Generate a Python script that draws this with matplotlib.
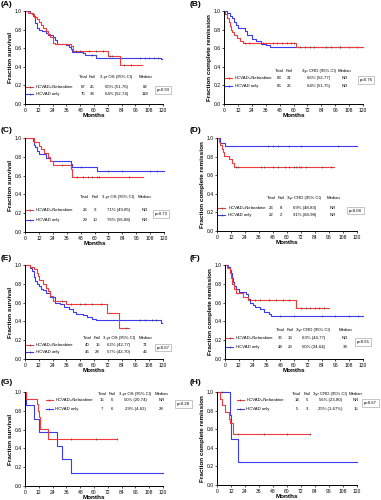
import numpy as np
import matplotlib
matplotlib.use("Agg")
import matplotlib.pyplot as plt

plt.rcParams['font.family'] = ['Liberation Sans', 'DejaVu Sans']

RED = '#f23a3a'
BLUE = '#3b3bf2'

# ---- curve data: event times / survival after each step; censor times ----
a_nel_t = [0, 3, 6, 8, 10, 12, 14, 16, 18, 20, 22, 24, 26, 40, 42, 72, 83, 102]
a_nel_s = [1.0, 0.98, 0.97, 0.94, 0.91, 0.88, 0.85, 0.82, 0.78, 0.75, 0.72, 0.66, 0.65, 0.62, 0.57, 0.52, 0.42, 0.42]
a_nel_c = [44, 48, 56, 62, 68, 74, 76, 86, 92]
a_hcv_t = [0, 4, 7, 9, 10, 12, 15, 18, 20, 24, 26, 28, 36, 38, 40, 41, 50, 52, 62, 118, 119]
a_hcv_s = [1.0, 0.98, 0.95, 0.87, 0.82, 0.80, 0.78, 0.76, 0.74, 0.72, 0.69, 0.65, 0.63, 0.61, 0.59, 0.56, 0.55, 0.53, 0.50, 0.48, 0.48]
a_hcv_c = [58, 100, 104, 108, 112, 116]

b_nel_t = [0, 1, 3, 4, 5, 6, 7, 9, 11, 14, 16, 62, 120]
b_nel_s = [1.0, 0.97, 0.93, 0.88, 0.84, 0.80, 0.77, 0.74, 0.71, 0.68, 0.66, 0.61, 0.61]
b_nel_c = [18, 22, 34, 42, 46, 50, 54, 58, 60, 66, 70, 74, 78, 88, 92, 100]
b_hcv_t = [0, 3, 5, 7, 9, 10, 12, 18, 20, 24, 28, 32, 36, 40, 119]
b_hcv_s = [1.0, 0.98, 0.95, 0.92, 0.88, 0.85, 0.82, 0.78, 0.74, 0.70, 0.68, 0.65, 0.63, 0.61, 0.61]
b_hcv_c = [100, 108, 115]

c_nel_t = [0, 8, 12, 14, 16, 20, 22, 24, 40, 41, 102]
c_nel_s = [1.0, 0.96, 0.92, 0.88, 0.84, 0.80, 0.76, 0.71, 0.67, 0.59, 0.59]
c_nel_c = [32, 45, 50, 54, 58, 62, 64, 90]
c_hcv_t = [0, 7, 8, 9, 10, 12, 18, 22, 40, 41, 62, 120]
c_hcv_s = [1.0, 0.97, 0.93, 0.90, 0.86, 0.83, 0.79, 0.76, 0.72, 0.69, 0.65, 0.65]
c_hcv_c = [48, 72, 84, 108, 114]

d_nel_t = [0, 2, 3, 4, 5, 6, 10, 13, 15, 100]
d_nel_s = [1.0, 0.96, 0.92, 0.88, 0.85, 0.81, 0.77, 0.73, 0.69, 0.69]
d_nel_c = [16, 18, 38, 40, 48, 52, 58, 62, 66, 68, 70, 72, 76, 90, 98]
d_hcv_t = [0, 3, 7, 120]
d_hcv_s = [1.0, 0.95, 0.91, 0.91]
d_hcv_c = [44, 48, 52, 62, 72, 104]

e_nel_t = [0, 4, 8, 10, 11, 12, 16, 18, 20, 22, 24, 36, 71, 82, 90]
e_nel_s = [1.0, 0.98, 0.96, 0.92, 0.88, 0.84, 0.80, 0.76, 0.72, 0.67, 0.62, 0.58, 0.49, 0.33, 0.33]
e_nel_c = [32, 40, 48, 52, 58, 66, 88]
e_hcv_t = [0, 4, 6, 8, 9, 10, 12, 14, 16, 18, 22, 26, 30, 34, 38, 42, 44, 50, 54, 58, 62, 118, 119]
e_hcv_s = [1.0, 0.97, 0.94, 0.87, 0.83, 0.80, 0.78, 0.75, 0.73, 0.70, 0.66, 0.60, 0.58, 0.55, 0.53,
           0.50, 0.48, 0.47, 0.45, 0.43, 0.41, 0.38, 0.38]
e_hcv_c = [100, 104, 110, 114]

f_nel_t = [0, 2, 4, 5, 6, 8, 10, 16, 20, 62, 90]
f_nel_s = [1.0, 0.97, 0.92, 0.86, 0.80, 0.75, 0.70, 0.66, 0.63, 0.54, 0.54]
f_nel_c = [22, 26, 30, 38, 44, 50, 56, 66, 70, 74, 78, 82, 86]
f_hcv_t = [0, 3, 4, 5, 6, 7, 8, 10, 12, 18, 20, 22, 24, 26, 30, 34, 38, 40, 120]
f_hcv_s = [1.0, 0.98, 0.95, 0.91, 0.86, 0.82, 0.78, 0.74, 0.71, 0.69, 0.64, 0.60, 0.57, 0.55,
           0.53, 0.50, 0.48, 0.46, 0.46]
f_hcv_c = [48, 60, 84, 96, 108, 116]

g_nel_t = [0, 1, 10, 11, 12, 13, 20, 80]
g_nel_s = [1.0, 0.93, 0.87, 0.80, 0.73, 0.61, 0.50, 0.50]
g_nel_c = [40, 62, 80]
g_hcv_t = [0, 1, 8, 12, 28, 32, 40, 120]
g_hcv_s = [1.0, 0.86, 0.71, 0.57, 0.43, 0.29, 0.14, 0.14]
g_hcv_c = []

h_nel_t = [0, 3, 4, 7, 10, 11, 14, 80]
h_nel_s = [1.0, 0.93, 0.86, 0.79, 0.71, 0.67, 0.55, 0.55]
h_nel_c = [18, 40, 60, 80]
h_hcv_t = [0, 11, 12, 18, 120]
h_hcv_s = [1.0, 0.75, 0.50, 0.25, 0.25]
h_hcv_c = [4]

# ---- table texts ----
labels = ['(A)', '(B)', '(C)', '(D)', '(E)', '(F)', '(G)', '(H)']
ylabels = ['Fraction survival', 'Fraction complete remission'] * 4
group_names = ['HCVAD+Nelarabine', 'HCVAD only']
hdr_os = ['Total', 'Fail', '3-yr OS (95% CI)', 'Median']
hdr_crd = ['Total', 'Fail', '3yr CRD (95% CI)', 'Median']
rows = [
    [['67', '25', '65% (51-76)', '82'], ['75', '38', '64% (52-74)', '118']],
    [['63', '21', '66% (52-77)', 'NR'], ['66', '25', '64% (51-75)', 'NR']],
    [['26', '9', '71% (49-85)', 'NR'], ['29', '10', '76% (56-88)', 'NR']],
    [['26', '8', '69% (48-83)', 'NR'], ['22', '2', '91% (68-98)', 'NR']],
    [['40', '15', '62% (42-77)', '71'], ['46', '28', '57% (42-70)', '46']],
    [['36', '13', '63% (44-77)', 'NR'], ['44', '23', '50% (34-64)', '38']],
    [['15', '6', '50% (20-74)', 'NR'], ['7', '6', '29% (4-62)', '28']],
    [['14', '5', '56% (23-80)', 'NR'], ['5', '3', '25% (1-67%)', '15']],
]
pvals = ['p=0.93', 'p=0.76', 'p=0.73', 'p=0.08', 'p=0.67', 'p=0.65', 'p=0.28', 'p=0.67']

curves = [
    (a_nel_t, a_nel_s, a_nel_c, a_hcv_t, a_hcv_s, a_hcv_c),
    (b_nel_t, b_nel_s, b_nel_c, b_hcv_t, b_hcv_s, b_hcv_c),
    (c_nel_t, c_nel_s, c_nel_c, c_hcv_t, c_hcv_s, c_hcv_c),
    (d_nel_t, d_nel_s, d_nel_c, d_hcv_t, d_hcv_s, d_hcv_c),
    (e_nel_t, e_nel_s, e_nel_c, e_hcv_t, e_hcv_s, e_hcv_c),
    (f_nel_t, f_nel_s, f_nel_c, f_hcv_t, f_hcv_s, f_hcv_c),
    (g_nel_t, g_nel_s, g_nel_c, g_hcv_t, g_hcv_s, g_hcv_c),
    (h_nel_t, h_nel_s, h_nel_c, h_hcv_t, h_hcv_s, h_hcv_c),
]

# pixel boxes of each axes (left, top, right, bottom) in a 381x500 figure
boxes = [(25, 11, 163, 104), (224, 11, 363, 104),
         (25, 138, 164, 232), (217, 138, 357, 231),
         (25, 265, 163, 359), (225, 265, 363, 359),
         (25, 392, 163, 486), (217, 392, 357, 485)]
label_pos = [(1, 5), (190, 5), (1, 130), (190, 130), (1, 258), (190, 258), (1, 383), (190, 383)]
# table layout in axes fraction: column x's, header/row y's, line x, p box
tab_cols = [(0.42, 0.485, 0.66, 0.87), (0.40, 0.47, 0.68, 0.87),
            (0.43, 0.50, 0.67, 0.86), (0.39, 0.46, 0.625, 0.83),
            (0.45, 0.525, 0.68, 0.87), (0.40, 0.47, 0.64, 0.87),
            (0.56, 0.63, 0.80, 0.99), (0.57, 0.64, 0.81, 0.99)]
tab_rows = [(0.29, 0.18, 0.11), (0.36, 0.28, 0.19),
            (0.375, 0.23, 0.13), (0.35, 0.25, 0.17),
            (0.22, 0.15, 0.07), (0.31, 0.22, 0.13),
            (0.98, 0.91, 0.82), (0.98, 0.91, 0.82)]
line_x = [0.01, 0.01, 0.01, 0.01, 0.01, 0.01, 0.15, 0.14]
p_pos = [(1.0, 0.15), (1.02, 0.26), (0.98, 0.19), (0.99, 0.22),
         (1.0, 0.12), (1.0, 0.18), (1.15, 0.87), (1.095, 0.88)]

W, H = 381, 500
fig = plt.figure(figsize=(W / 100, H / 100), dpi=100)

def step_value(t, s, x):
    i = np.searchsorted(t, x, side='right') - 1
    return s[max(i, 0)]

fs_tab = 3.1
for k in range(8):
    l, t, r, b = boxes[k]
    ax = fig.add_axes([l / W, 1 - b / H, (r - l) / W, (b - t) / H])
    nt, ns, nc, ht, hs, hc = curves[k]
    for tt, ss, cc, col in ((ht, hs, hc, BLUE), (nt, ns, nc, RED)):
        ax.step(tt, ss, where='post', color=col, lw=0.8, clip_on=False)
        if cc:
            cy = [step_value(tt, ss, x) for x in cc]
            ax.plot(cc, cy, ls='none', marker='|', ms=1.8, mew=0.4, color='#333333', clip_on=False)
    ax.set_xlim(0, 120)
    ax.set_ylim(0, 1.0)
    ax.set_xticks(np.arange(0, 121, 12))
    ax.set_yticks(np.arange(0, 1.01, 0.2))
    ax.yaxis.set_major_formatter(matplotlib.ticker.FormatStrFormatter('%.1f'))
    ax.tick_params(labelsize=3.6, length=1.6, width=0.5, pad=1)
    for sp in ('top', 'right'):
        ax.spines[sp].set_visible(False)
    for sp in ('left', 'bottom'):
        ax.spines[sp].set_linewidth(0.7)
    ax.set_xlabel('Months', fontsize=4.6, fontweight='bold', labelpad=0.5)
    ax.set_ylabel(ylabels[k], fontsize=4.6, fontweight='bold', labelpad=1)

    # table
    cols = tab_cols[k]
    hy, r1, r2 = tab_rows[k]
    hdr = hdr_os if k % 2 == 0 else hdr_crd
    for x, txt in zip(cols, hdr):
        ax.text(x, hy, txt, transform=ax.transAxes, fontsize=fs_tab, ha='center', va='center')
    lx = line_x[k]
    for ry, col, name, vals in ((r1, RED, group_names[0], rows[k][0]),
                                (r2, BLUE, group_names[1], rows[k][1])):
        ax.plot([lx, lx + 0.05], [ry, ry], color=col, lw=0.8, transform=ax.transAxes, clip_on=False)
        ax.plot([lx + 0.025], [ry], marker='|', ms=1.8, mew=0.4, color='#333333',
                transform=ax.transAxes, clip_on=False)
        ax.text(lx + 0.07, ry, name, transform=ax.transAxes, fontsize=fs_tab, ha='left', va='center')
        for x, txt in zip(cols, vals):
            ax.text(x, ry, txt, transform=ax.transAxes, fontsize=fs_tab, ha='center', va='center')
    px, py = p_pos[k]
    ax.text(px, py, pvals[k], transform=ax.transAxes, fontsize=fs_tab, ha='center', va='center',
            bbox=dict(boxstyle='square,pad=0.4', fc='white', ec='#999999', lw=0.4), clip_on=False)

    lxp, lyp = label_pos[k]
    fig.text(lxp / W, 1 - lyp / H, labels[k], fontsize=6, fontweight='bold', ha='left', va='center')

fig.savefig('out.png', dpi=100)
